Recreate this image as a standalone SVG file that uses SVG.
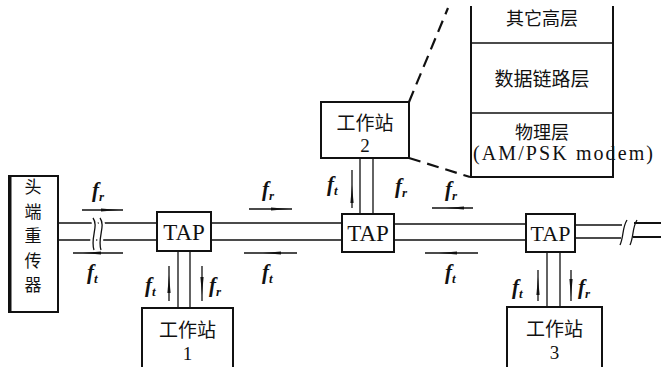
<svg xmlns="http://www.w3.org/2000/svg" xmlns:xlink="http://www.w3.org/1999/xlink" width="661" height="367" viewBox="0 0 661 367">
<style>
.box{fill:#fff;stroke:#111;stroke-width:2}
.ln{fill:none;stroke:#111;stroke-width:1.3}
.dash{fill:none;stroke:#111;stroke-width:2.2;stroke-dasharray:12 7}
.cjk{font-family:"Noto Sans CJK SC","Noto Sans CJK JP",sans-serif;fill:#111;text-anchor:middle}
.ser{font-family:"Liberation Serif","DejaVu Serif",serif;fill:#111;text-anchor:middle}
.sers{font-family:"Liberation Serif","DejaVu Serif",serif;fill:#111;text-anchor:start}
.f{font-family:"Liberation Serif","DejaVu Serif",serif;font-style:italic;font-weight:bold;fill:#111;font-size:21px}
.sub{font-size:13px}
.w{fill:#111}
</style>
<defs>
<path id="wedge" d="M-9,-1.6 L9,0 L-9,1.6 Z"/>
</defs>
<rect width="661" height="367" fill="#fff"/>

<g id="connectors">
  <path class="ln" d="M58,223 H157 M58,240 H157"/>
  <path d="M93,218 C99,226 90,238 94,250 M100,218 C106,226 97,238 101,250" fill="none" stroke="#fff" stroke-width="6"/>
  <path class="ln" d="M93,218 C99,226 90,238 94,250 M100,218 C106,226 97,238 101,250"/>
  <path class="ln" d="M211,223 H342 M211,240 H342"/>
  <path class="ln" d="M394,224 H526 M394,240 H526"/>
  <path class="ln" d="M575,225 H622 M575,238 H621"/>
  <path class="ln" d="M627,220 C622,228 624,236 620,245 M637,220 C632,228 634,236 630,245"/>
  <path fill="none" stroke="#111" stroke-width="2.2" d="M634,223 H661 M633,237 H661"/>
  <path class="ln" d="M178,251 V308 M190,251 V308"/>
  <path class="ln" d="M360,158 V214 M373,158 V214"/>
  <path class="ln" d="M547,252 V307 M560,252 V307"/>
  <path class="dash" d="M409,102 L448,8"/>
  <path class="dash" d="M409,158 L470,177"/>
  <path class="ln" d="M82,210 H123 M73,253 H123"/>
  <use xlink:href="#wedge" class="w" transform="translate(110,210)"/>
  <use xlink:href="#wedge" class="w" transform="translate(92,253) rotate(180)"/>
  <path class="ln" d="M249,209 H292 M244,253 H297"/>
  <use xlink:href="#wedge" class="w" transform="translate(280,209)"/>
  <use xlink:href="#wedge" class="w" transform="translate(272,253) rotate(180)"/>
  <path class="ln" d="M432,208 H473 M425,253 H478"/>
  <use xlink:href="#wedge" class="w" transform="translate(455,208) rotate(180)"/>
  <use xlink:href="#wedge" class="w" transform="translate(448,253) rotate(180)"/>
  <path class="ln" d="M169,266 V301 M202,266 V301"/>
  <use xlink:href="#wedge" class="w" transform="translate(169,284) rotate(-90)"/>
  <use xlink:href="#wedge" class="w" transform="translate(202,286) rotate(90)"/>
  <path class="ln" d="M352,170 V208"/>
  <use xlink:href="#wedge" class="w" transform="translate(352,194) rotate(-90)"/>
  <path class="ln" d="M538,270 V301 M571,270 V301"/>
  <use xlink:href="#wedge" class="w" transform="translate(538,286) rotate(-90)"/>
  <use xlink:href="#wedge" class="w" transform="translate(571,288) rotate(90)"/>
</g>

<g id="labels">
  <text class="f" x="92" y="197">f<tspan class="sub" dy="4">r</tspan></text>
  <text class="f" x="87" y="279">f<tspan class="sub" dy="4">t</tspan></text>
  <text class="f" x="262" y="196">f<tspan class="sub" dy="4">r</tspan></text>
  <text class="f" x="262" y="279">f<tspan class="sub" dy="4">t</tspan></text>
  <text class="f" x="445" y="196">f<tspan class="sub" dy="4">r</tspan></text>
  <text class="f" x="445" y="279">f<tspan class="sub" dy="4">t</tspan></text>
  <text class="f" x="145" y="292">f<tspan class="sub" dy="4">t</tspan></text>
  <text class="f" x="209" y="292">f<tspan class="sub" dy="4">r</tspan></text>
  <text class="f" x="327" y="191">f<tspan class="sub" dy="4">t</tspan></text>
  <text class="f" x="395" y="193">f<tspan class="sub" dy="4">r</tspan></text>
  <text class="f" x="512" y="294">f<tspan class="sub" dy="4">t</tspan></text>
  <text class="f" x="578" y="294">f<tspan class="sub" dy="4">r</tspan></text>
</g>

<g id="headend">
  <rect class="box" x="9" y="176" width="49" height="136"/>
  <path d="M10,176 V312" stroke="#111" stroke-width="3"/>
  <text class="cjk" x="33" y="193" font-size="17">头</text>
  <text class="cjk" x="33" y="217.5" font-size="17">端</text>
  <text class="cjk" x="33" y="242" font-size="17">重</text>
  <text class="cjk" x="33" y="266.5" font-size="17">传</text>
  <text class="cjk" x="33" y="291" font-size="17">器</text>
</g>

<g id="tap1">
  <rect class="box" x="157" y="212" width="54" height="39"/>
  <text class="ser" x="184" y="239.5" font-size="23">TAP</text>
</g>
<g id="tap2">
  <rect class="box" x="342" y="214" width="52" height="38"/>
  <text class="ser" x="368" y="241" font-size="23">TAP</text>
</g>
<g id="tap3">
  <rect class="box" x="526" y="214" width="49" height="38"/>
  <text class="ser" x="550.5" y="241" font-size="22">TAP</text>
</g>

<g id="ws1">
  <rect class="box" x="142" y="308" width="91" height="64"/>
  <text class="cjk" x="187.5" y="337" font-size="19">工作站</text>
  <text class="ser" x="187.5" y="360" font-size="19">1</text>
</g>
<g id="ws2">
  <rect class="box" x="321" y="102" width="88" height="56"/>
  <text class="cjk" x="365" y="130" font-size="19">工作站</text>
  <text class="ser" x="365" y="152" font-size="19">2</text>
</g>
<g id="ws3">
  <rect class="box" x="507" y="307" width="95" height="65"/>
  <text class="cjk" x="554.5" y="336" font-size="19">工作站</text>
  <text class="ser" x="554.5" y="359" font-size="19">3</text>
</g>

<g id="stack">
  <path d="M471,6 V177 H613 V6" fill="none" stroke="#111" stroke-width="2"/>
  <path class="ln" d="M471,43 H613 M471,113 H613" stroke-width="1.8"/>
  <text class="cjk" x="542" y="25" font-size="18">其它高层</text>
  <text class="cjk" x="542" y="86" font-size="19">数据链路层</text>
  <text class="cjk" x="542" y="139" font-size="18">物理层</text>
  <text class="sers" x="473" y="160" font-size="20" textLength="180" lengthAdjust="spacing">(AM/PSK modem)</text>
</g>
</svg>
